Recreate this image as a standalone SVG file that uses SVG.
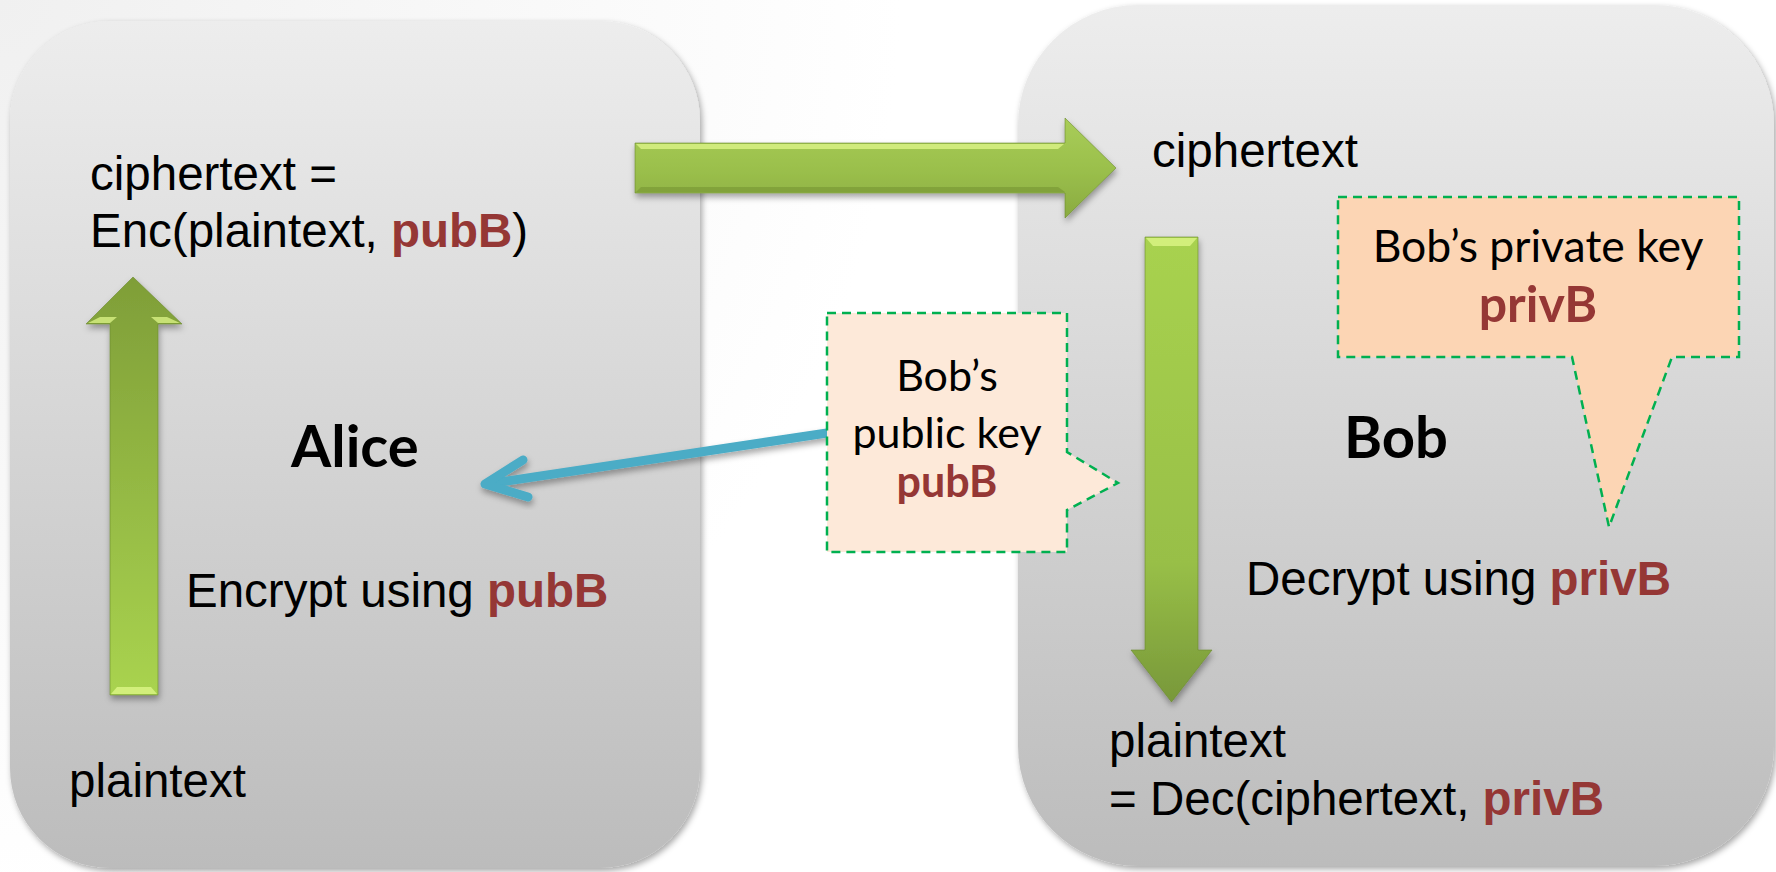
<svg xmlns="http://www.w3.org/2000/svg" width="1776" height="872" viewBox="0 0 1776 872">
<defs>
  <radialGradient id="bg" cx="0" cy="0" r="900" gradientUnits="userSpaceOnUse">
    <stop offset="0" stop-color="#f0f0f0"/>
    <stop offset="1" stop-color="#ffffff"/>
  </radialGradient>
  <linearGradient id="boxL" x1="0" y1="21" x2="0" y2="868" gradientUnits="userSpaceOnUse">
    <stop offset="0" stop-color="#ededed"/>
    <stop offset="1" stop-color="#bcbcbc"/>
  </linearGradient>
  <linearGradient id="boxR" x1="0" y1="5" x2="0" y2="866" gradientUnits="userSpaceOnUse">
    <stop offset="0" stop-color="#ededed"/>
    <stop offset="1" stop-color="#bcbcbc"/>
  </linearGradient>
  <linearGradient id="gH" x1="0" y1="118" x2="0" y2="218" gradientUnits="userSpaceOnUse">
    <stop offset="0" stop-color="#a9cd58"/>
    <stop offset="0.5" stop-color="#9bc04c"/>
    <stop offset="1" stop-color="#8aab40"/>
  </linearGradient>
  <linearGradient id="gUp" x1="0" y1="277" x2="0" y2="695" gradientUnits="userSpaceOnUse">
    <stop offset="0" stop-color="#7f9e38"/>
    <stop offset="1" stop-color="#a9d34f"/>
  </linearGradient>
  <linearGradient id="gDn" x1="0" y1="237" x2="0" y2="702" gradientUnits="userSpaceOnUse">
    <stop offset="0" stop-color="#a8d24f"/>
    <stop offset="0.7" stop-color="#98bf47"/>
    <stop offset="1" stop-color="#78983a"/>
  </linearGradient>
  <filter id="shadow" x="-10%" y="-10%" width="120%" height="120%">
    <feDropShadow dx="2" dy="3" stdDeviation="3" flood-color="#000" flood-opacity="0.35"/>
  </filter>
  <filter id="ashadow" x="-10%" y="-10%" width="120%" height="130%">
    <feDropShadow dx="1" dy="4" stdDeviation="3" flood-color="#000" flood-opacity="0.35"/>
  </filter>
  <style>
    .t { font-family: "Liberation Sans", Arial, sans-serif; font-size: 47.5px; fill: #000; }
    .r { font-weight: bold; fill: #953735; }
    .c { font-family: Lato, "Open Sans", sans-serif; font-size: 43px; fill: #000; text-anchor: middle; }
    .c2 { font-size: 44.5px; }
    .cb { font-weight: bold; fill: #953735; }
    .cb2 { font-size: 50px; }
    .name { font-family: Lato, "Open Sans", sans-serif; font-weight: bold; font-size: 58px; fill: #000; }
    .callout { stroke: #00b050; stroke-width: 2.5; stroke-dasharray: 9 6; }
    .arrow { stroke: #6b8a2e; stroke-width: 1; stroke-opacity: 0.6; filter: url(#ashadow); }
    .hl { fill: #e4fb8e; opacity: 0.7; }
  </style>
</defs>

<rect x="0" y="0" width="1776" height="872" fill="url(#bg)"/>

<g id="alice">
  <rect x="10" y="21" width="690" height="847" rx="100" ry="100" fill="url(#boxL)" filter="url(#shadow)"/>
  <text class="t" x="90" y="190">ciphertext =</text>
  <text class="t" x="90" y="247">Enc(plaintext, <tspan class="r">pubB</tspan>)</text>
  <text class="name" x="291" y="467">Alice</text>
  <text class="t" x="186" y="607">Encrypt using <tspan class="r">pubB</tspan></text>
  <text class="t" x="69" y="797">plaintext</text>
</g>

<g id="bob">
  <rect x="1018" y="5" width="756" height="861" rx="120" ry="120" fill="url(#boxR)" filter="url(#shadow)"/>
  <text class="t" x="1152" y="167">ciphertext</text>
  <text class="name" x="1344" y="458">Bob</text>
  <text class="t" x="1246" y="595">Decrypt using <tspan class="r">privB</tspan></text>
  <text class="t" x="1109" y="757">plaintext</text>
  <text class="t" x="1109" y="815">= Dec(ciphertext, <tspan class="r">privB</tspan></text>
</g>

<g id="connectors">
  <g id="arrow-send">
    <polygon class="arrow" points="635,143 1065,143 1065,118 1116,168 1065,218 1065,193 635,193" fill="url(#gH)"/>
    <polygon class="hl" points="636,144 1064,144 1058,149 641,149"/>
    <polygon fill="#6f8e2f" opacity="0.5" points="641,187 1058,187 1065,192 636,192"/>
  </g>
  <g id="arrow-encrypt">
    <polygon class="arrow" points="110,695 110,324 86,324 133,277 182,324 158,324 158,695" fill="url(#gUp)"/>
    <polygon class="hl" points="111,694 157,694 151,687 117,687"/>
    <polygon class="hl" points="88,323 110,323 117,317 100,317"/>
    <polygon class="hl" points="180,323 158,323 151,317 167,317"/>
  </g>
  <g id="arrow-decrypt">
    <polygon class="arrow" points="1145,237 1198,237 1198,650 1212,650 1171.5,702 1131,650 1145,650" fill="url(#gDn)"/>
    <polygon class="hl" points="1146,238 1197,238 1190,246 1153,246"/>
  </g>
  <g id="arrow-key" filter="url(#ashadow)" fill="none" stroke="#4bacc6" stroke-width="9" stroke-linecap="round" stroke-linejoin="round">
    <line x1="827" y1="433" x2="487" y2="484"/>
    <polyline points="523,460 485,484 528,497"/>
  </g>
</g>

<g id="callout-pub">
  <path class="callout" d="M827,313 H1067 V452 L1118,483 L1067,510 V552 H827 Z" fill="#fde9d9"/>
  <text class="c" x="947" y="391">Bob’s</text>
  <text class="c" x="947" y="448">public key</text>
  <text class="c cb" x="947" y="497">pubB</text>
</g>

<g id="callout-priv">
  <path class="callout" d="M1338,197 H1739 V357 H1672 L1609,527 L1572,357 H1338 Z" fill="#fcd5b4"/>
  <text class="c c2" x="1538" y="262">Bob’s private key</text>
  <text class="c cb cb2" x="1538" y="322">privB</text>
</g>
</svg>
